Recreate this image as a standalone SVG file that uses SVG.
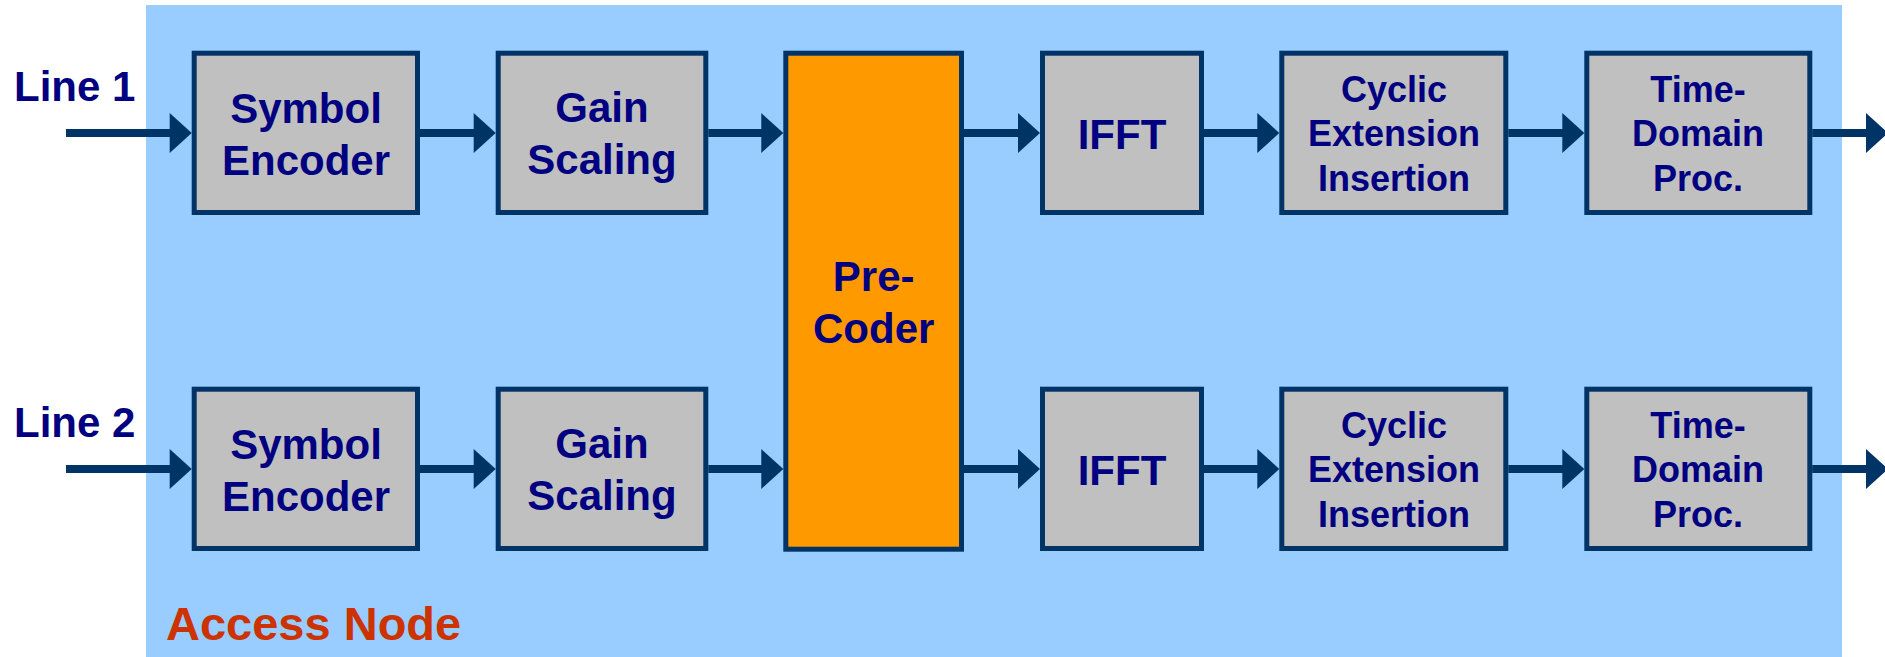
<svg xmlns="http://www.w3.org/2000/svg" width="1885" height="657" viewBox="0 0 1885 657">
<style>
.box{fill:#C0C0C0;stroke:#003366;stroke-width:5}
.pc{fill:#FF9900;stroke:#003366;stroke-width:5}
.t{font-family:"Liberation Sans",Arial,sans-serif;font-weight:bold;fill:#000080;text-anchor:middle}
.t42{font-size:42px}
.t36{font-size:36px}
.lbl{font-family:"Liberation Sans",Arial,sans-serif;font-weight:bold;fill:#000080;font-size:42px}
.conn{stroke:#003366;stroke-width:8;fill:none;marker-end:url(#ah)}
</style>
<defs>
<marker id="ah" markerUnits="userSpaceOnUse" markerWidth="22" markerHeight="40" refX="12" refY="20" orient="auto" overflow="visible">
<path d="M0,0 L22,20 L0,40 Z" fill="#003366"/>
</marker>
</defs>
<rect id="access-node" x="146" y="5" width="1696" height="652" fill="#99CCFF"/>
<text x="166" y="640" font-family="Liberation Sans, Arial, sans-serif" font-weight="bold" font-size="47" fill="#CC3300">Access Node</text>
<text class="lbl" x="14" y="101">Line 1</text>
<text class="lbl" x="14" y="437">Line 2</text>
<g id="connectors">
<path class="conn" d="M66,133 H181.7"/>
<path class="conn" d="M420,133 H485.7"/>
<path class="conn" d="M708.3,133 H773.3"/>
<path class="conn" d="M964,133 H1030"/>
<path class="conn" d="M1204,133 H1269.3"/>
<path class="conn" d="M1508.3,133 H1574.3"/>
<path class="conn" d="M1812.2,133 H1878"/>
<path class="conn" d="M66,469 H181.7"/>
<path class="conn" d="M420,469 H485.7"/>
<path class="conn" d="M708.3,469 H773.3"/>
<path class="conn" d="M964,469 H1030"/>
<path class="conn" d="M1204,469 H1269.3"/>
<path class="conn" d="M1508.3,469 H1574.3"/>
<path class="conn" d="M1812.2,469 H1878"/>
</g>
<g id="symbol-encoder-1"><rect class="box" x="194.2" y="53.2" width="223.3" height="159.3"/><text class="t t42" x="306" y="123">Symbol</text><text class="t t42" x="306" y="175">Encoder</text></g>
<g id="gain-scaling-1"><rect class="box" x="498.2" y="53.2" width="207.6" height="159.3"/><text class="t t42" x="602" y="122">Gain</text><text class="t t42" x="602" y="174">Scaling</text></g>
<g id="pre-coder"><rect class="pc" x="785.8" y="53.2" width="175.7" height="496"/><text class="t t42" x="873.7" y="291">Pre-</text><text class="t t42" x="873.7" y="343">Coder</text></g>
<g id="ifft-1"><rect class="box" x="1042.5" y="53.2" width="159" height="159.3"/><text class="t t42" x="1122" y="149">IFFT</text></g>
<g id="cyclic-1"><rect class="box" x="1281.8" y="53.2" width="224" height="159.3"/><text class="t t36" x="1394" y="101.5">Cyclic</text><text class="t t36" x="1394" y="146">Extension</text><text class="t t36" x="1394" y="190.5">Insertion</text></g>
<g id="time-domain-1"><rect class="box" x="1586.8" y="53.2" width="223" height="159.3"/><text class="t t36" x="1698" y="101.5">Time-</text><text class="t t36" x="1698" y="146">Domain</text><text class="t t36" x="1698" y="190.5">Proc.</text></g>
<g id="symbol-encoder-2"><rect class="box" x="194.2" y="389.2" width="223.3" height="159.3"/><text class="t t42" x="306" y="459">Symbol</text><text class="t t42" x="306" y="511">Encoder</text></g>
<g id="gain-scaling-2"><rect class="box" x="498.2" y="389.2" width="207.6" height="159.3"/><text class="t t42" x="602" y="458">Gain</text><text class="t t42" x="602" y="510">Scaling</text></g>
<g id="ifft-2"><rect class="box" x="1042.5" y="389.2" width="159" height="159.3"/><text class="t t42" x="1122" y="485">IFFT</text></g>
<g id="cyclic-2"><rect class="box" x="1281.8" y="389.2" width="224" height="159.3"/><text class="t t36" x="1394" y="437.5">Cyclic</text><text class="t t36" x="1394" y="482">Extension</text><text class="t t36" x="1394" y="526.5">Insertion</text></g>
<g id="time-domain-2"><rect class="box" x="1586.8" y="389.2" width="223" height="159.3"/><text class="t t36" x="1698" y="437.5">Time-</text><text class="t t36" x="1698" y="482">Domain</text><text class="t t36" x="1698" y="526.5">Proc.</text></g>
</svg>
